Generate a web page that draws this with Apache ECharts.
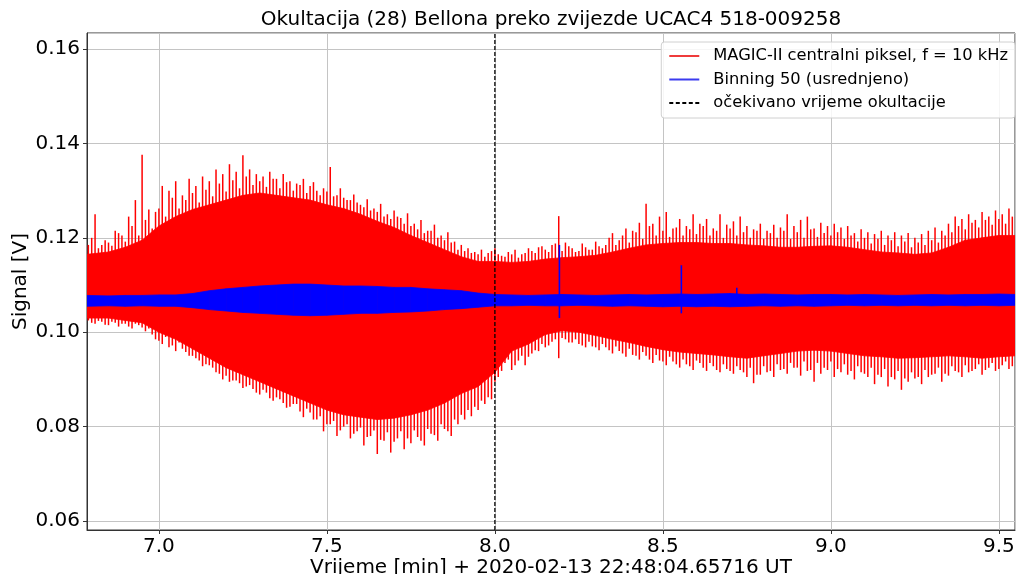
<!DOCTYPE html>
<html>
<head>
<meta charset="utf-8">
<script src="https://cdn.jsdelivr.net/npm/echarts@6/dist/echarts.min.js"></script>
<style>
html, body { margin: 0; padding: 0; background: #fff; }
#chart { width: 1016px; height: 574px; }
</style>
</head>
<body>
<div id="chart"></div>
<script>
// time axis for the envelopes (minutes)
const coreX = [6.786, 6.85, 6.90, 6.95, 7.00, 7.05, 7.10, 7.15, 7.20, 7.25, 7.30, 7.35, 7.40, 7.45,
    7.50, 7.55, 7.60, 7.65, 7.70, 7.75, 7.80, 7.85, 7.90, 7.95, 8.00, 8.05, 8.10, 8.15, 8.20, 8.25,
    8.30, 8.35, 8.40, 8.45, 8.50, 8.55, 8.60, 8.65, 8.70, 8.75, 8.80, 8.85, 8.90, 8.95, 9.00, 9.05,
    9.10, 9.15, 9.20, 9.25, 9.30, 9.35, 9.40, 9.45, 9.50, 9.548]

// dense part of the red signal (upper / lower edge)
const redHi = [0.1165, 0.1170, 0.1180, 0.1195, 0.1225, 0.1245, 0.1260, 0.1270, 0.1280, 0.1290, 0.1295, 0.1290, 0.1285, 0.1280,
    0.1270, 0.1262, 0.1250, 0.1235, 0.1222, 0.1205, 0.1190, 0.1175, 0.1160, 0.1150, 0.1150, 0.1148, 0.1150, 0.1155, 0.1158, 0.1160,
    0.1163, 0.1170, 0.1178, 0.1185, 0.1188, 0.1190, 0.1190, 0.1188, 0.1188, 0.1185, 0.1183, 0.1180, 0.1180, 0.1182, 0.1183, 0.1180,
    0.1175, 0.1170, 0.1168, 0.1165, 0.1168, 0.1180, 0.1195, 0.1200, 0.1205, 0.1205]
const redLo = [0.1030, 0.1030, 0.1025, 0.1020, 0.1000, 0.0985, 0.0965, 0.0945, 0.0925, 0.0910, 0.0895, 0.0880, 0.0865, 0.0850,
    0.0835, 0.0825, 0.0820, 0.0815, 0.0818, 0.0825, 0.0835, 0.0850, 0.0870, 0.0885, 0.0915, 0.0960, 0.0975, 0.0995, 0.1003, 0.1000,
    0.0993, 0.0985, 0.0978, 0.0970, 0.0963, 0.0958, 0.0955, 0.0952, 0.0948, 0.0945, 0.0950, 0.0955, 0.0960, 0.0962, 0.0960, 0.0955,
    0.0950, 0.0948, 0.0945, 0.0946, 0.0948, 0.0950, 0.0948, 0.0945, 0.0948, 0.0950]

// tall spikes of the red signal, every 0.02 min from 6.79
const spikeStart = 6.79
const spikeStep = 0.02
const spikeHi = [0.1185, 0.1250, 0.1185, 0.1190, 0.1215, 0.1205, 0.1245, 0.1280, 0.1376, 0.1260,
    0.1255, 0.1310, 0.1300, 0.1320, 0.1290, 0.1325, 0.1310, 0.1330, 0.1320, 0.1345,
    0.1335, 0.1356, 0.1340, 0.1375, 0.1345, 0.1335, 0.1330, 0.1340, 0.1325, 0.1335,
    0.1320, 0.1315, 0.1325, 0.1310, 0.1300, 0.1305, 0.1350, 0.1290, 0.1285, 0.1280,
    0.1275, 0.1265, 0.1258, 0.1255, 0.1245, 0.1240, 0.1245, 0.1230, 0.1225, 0.1218,
    0.1210, 0.1215, 0.1200, 0.1195, 0.1190, 0.1175, 0.1172, 0.1168, 0.1165, 0.1160,
    0.1172, 0.1165, 0.1160, 0.1165, 0.1158, 0.1168, 0.1172, 0.1180, 0.1175, 0.1185,
    0.1246, 0.1190, 0.1178, 0.1172, 0.1180, 0.1175, 0.1182, 0.1185, 0.1210, 0.1195,
    0.1220, 0.1215, 0.1232, 0.1272, 0.1230, 0.1245, 0.1255, 0.1220, 0.1240, 0.1225,
    0.1250, 0.1230, 0.1240, 0.1220, 0.1250, 0.1228, 0.1235, 0.1245, 0.1225, 0.1218,
    0.1230, 0.1215, 0.1228, 0.1222, 0.1250, 0.1225, 0.1238, 0.1245, 0.1220, 0.1232,
    0.1225, 0.1230, 0.1222, 0.1225, 0.1210, 0.1218, 0.1212, 0.1208, 0.1215, 0.1205,
    0.1212, 0.1205, 0.1210, 0.1200, 0.1208, 0.1215, 0.1222, 0.1215, 0.1230, 0.1245,
    0.1240, 0.1250, 0.1238, 0.1255, 0.1245, 0.1258, 0.1250, 0.1262, 0.1245]
const spikeLo = [0.1025, 0.1018, 0.1022, 0.1015, 0.1020, 0.1018, 0.1012, 0.1018, 0.1010, 0.1008,
    0.0985, 0.0975, 0.0968, 0.0960, 0.0965, 0.0950, 0.0945, 0.0928, 0.0930, 0.0915,
    0.0900, 0.0895, 0.0898, 0.0882, 0.0888, 0.0872, 0.0878, 0.0860, 0.0862, 0.0850,
    0.0842, 0.0848, 0.0820, 0.0830, 0.0815, 0.0790, 0.0805, 0.0780, 0.0800, 0.0775,
    0.0790, 0.0760, 0.0780, 0.0742, 0.0770, 0.0745, 0.0775, 0.0752, 0.0765, 0.0778,
    0.0760, 0.0785, 0.0770, 0.0795, 0.0780, 0.0805, 0.0815, 0.0822, 0.0835, 0.0848,
    0.0858, 0.0905, 0.0935, 0.0920, 0.0940, 0.0930, 0.0955, 0.0960, 0.0968, 0.0980,
    0.0945, 0.0985, 0.0978, 0.0975, 0.0968, 0.0970, 0.0962, 0.0968, 0.0955, 0.0960,
    0.0948, 0.0952, 0.0942, 0.0950, 0.0935, 0.0940, 0.0930, 0.0938, 0.0925, 0.0932,
    0.0920, 0.0935, 0.0918, 0.0928, 0.0915, 0.0922, 0.0912, 0.0920, 0.0905, 0.0892,
    0.0910, 0.0915, 0.0905, 0.0920, 0.0912, 0.0925, 0.0908, 0.0918, 0.0895, 0.0912,
    0.0920, 0.0905, 0.0915, 0.0910, 0.0900, 0.0915, 0.0905, 0.0890, 0.0905, 0.0885,
    0.0900, 0.0878, 0.0895, 0.0902, 0.0890, 0.0905, 0.0912, 0.0895, 0.0908, 0.0918,
    0.0905, 0.0915, 0.0922, 0.0910, 0.0925, 0.0918, 0.0930, 0.0922, 0.0935]

// shorter spikes in between, every 0.02 min from 6.80
const shortStart = 6.80
const shortHi = [0.1200, 0.1178, 0.1195, 0.1183, 0.1210, 0.1192, 0.1225, 0.1205, 0.1238, 0.1220,
    0.1262, 0.1245, 0.1285, 0.1262, 0.1280, 0.1295, 0.1275, 0.1302, 0.1288, 0.1315,
    0.1298, 0.1322, 0.1305, 0.1330, 0.1312, 0.1320, 0.1308, 0.1325, 0.1305, 0.1318,
    0.1300, 0.1312, 0.1295, 0.1318, 0.1290, 0.1298, 0.1288, 0.1305, 0.1280, 0.1292,
    0.1270, 0.1282, 0.1262, 0.1272, 0.1250, 0.1258, 0.1242, 0.1252, 0.1230, 0.1238,
    0.1215, 0.1228, 0.1205, 0.1212, 0.1192, 0.1185, 0.1178, 0.1170, 0.1175, 0.1168,
    0.1178, 0.1162, 0.1170, 0.1175, 0.1165, 0.1178, 0.1168, 0.1182, 0.1170, 0.1188,
    0.1172, 0.1182, 0.1170, 0.1188, 0.1175, 0.1192, 0.1178, 0.1200, 0.1185, 0.1205,
    0.1190, 0.1212, 0.1198, 0.1225, 0.1205, 0.1215, 0.1202, 0.1222, 0.1205, 0.1218,
    0.1208, 0.1225, 0.1205, 0.1215, 0.1200, 0.1220, 0.1205, 0.1212, 0.1200, 0.1215,
    0.1198, 0.1210, 0.1200, 0.1215, 0.1198, 0.1212, 0.1200, 0.1218, 0.1202, 0.1210,
    0.1205, 0.1212, 0.1198, 0.1205, 0.1192, 0.1200, 0.1188, 0.1198, 0.1185, 0.1195,
    0.1182, 0.1192, 0.1180, 0.1190, 0.1185, 0.1195, 0.1190, 0.1205, 0.1212, 0.1225,
    0.1218, 0.1232, 0.1222, 0.1238, 0.1228, 0.1240, 0.1230, 0.1245]
const shortLo = [0.1020, 0.1024, 0.1016, 0.1022, 0.1012, 0.1018, 0.1008, 0.1015, 0.1002, 0.0995,
    0.0982, 0.0990, 0.0972, 0.0978, 0.0958, 0.0950, 0.0940, 0.0932, 0.0925, 0.0912,
    0.0908, 0.0898, 0.0892, 0.0885, 0.0880, 0.0868, 0.0872, 0.0855, 0.0858, 0.0840,
    0.0848, 0.0832, 0.0838, 0.0815, 0.0822, 0.0805, 0.0812, 0.0792, 0.0805, 0.0785,
    0.0798, 0.0778, 0.0792, 0.0772, 0.0788, 0.0768, 0.0790, 0.0775, 0.0792, 0.0770,
    0.0795, 0.0782, 0.0805, 0.0790, 0.0815, 0.0825, 0.0835, 0.0842, 0.0855, 0.0862,
    0.0895, 0.0918, 0.0942, 0.0930, 0.0950, 0.0948, 0.0962, 0.0975, 0.0972, 0.0985,
    0.0988, 0.0978, 0.0985, 0.0972, 0.0980, 0.0968, 0.0975, 0.0962, 0.0970, 0.0955,
    0.0965, 0.0950, 0.0958, 0.0942, 0.0952, 0.0938, 0.0948, 0.0932, 0.0942, 0.0928,
    0.0940, 0.0925, 0.0935, 0.0920, 0.0932, 0.0918, 0.0928, 0.0915, 0.0925, 0.0910,
    0.0928, 0.0918, 0.0932, 0.0922, 0.0935, 0.0925, 0.0938, 0.0920, 0.0935, 0.0925,
    0.0938, 0.0922, 0.0932, 0.0918, 0.0928, 0.0912, 0.0925, 0.0910, 0.0922, 0.0905,
    0.0918, 0.0902, 0.0915, 0.0905, 0.0920, 0.0910, 0.0925, 0.0912, 0.0928, 0.0915,
    0.0930, 0.0918, 0.0932, 0.0920, 0.0935, 0.0922, 0.0938, 0.0928]

// binned signal band (upper / lower edge), same times as coreX
const blueHi = [0.1078, 0.1077, 0.1078, 0.1078, 0.1079, 0.1079, 0.1082, 0.1088, 0.1092, 0.1095, 0.1098, 0.1100, 0.1102, 0.1102,
    0.1100, 0.1098, 0.1098, 0.1097, 0.1095, 0.1095, 0.1092, 0.1090, 0.1088, 0.1083, 0.1080, 0.1079, 0.1078, 0.1079, 0.1080, 0.1079,
    0.1078, 0.1079, 0.1080, 0.1079, 0.1080, 0.1081, 0.1080, 0.1081, 0.1082, 0.1080, 0.1081, 0.1080, 0.1079, 0.1080, 0.1080, 0.1079,
    0.1080, 0.1079, 0.1078, 0.1079, 0.1080, 0.1079, 0.1080, 0.1080, 0.1081, 0.1080]
const blueLo = [0.1055, 0.1056, 0.1055, 0.1056, 0.1055, 0.1055, 0.1052, 0.1048, 0.1045, 0.1042, 0.1040, 0.1038, 0.1036, 0.1035,
    0.1036, 0.1038, 0.1040, 0.1040, 0.1042, 0.1043, 0.1045, 0.1048, 0.1050, 0.1053, 0.1056, 0.1056, 0.1057, 0.1056, 0.1056, 0.1057,
    0.1056, 0.1055, 0.1056, 0.1055, 0.1054, 0.1055, 0.1054, 0.1055, 0.1054, 0.1055, 0.1056, 0.1055, 0.1056, 0.1055, 0.1056, 0.1057,
    0.1056, 0.1057, 0.1056, 0.1057, 0.1056, 0.1057, 0.1056, 0.1057, 0.1056, 0.1057]
// outliers of the binned signal: [time, low, high]
const blueSpikes = [[8.192, 0.1030, 0.1185], [8.555, 0.1040, 0.1142], [8.72, 0.1060, 0.1094]]

const occultX = 8.0
const xTicks = [7.0, 7.5, 8.0, 8.5, 9.0, 9.5]

const redName = 'MAGIC-II centralni piksel, f = 10 kHz'
const blueName = 'Binning 50 (usrednjeno)'
const lineName = 'očekivano vrijeme okultacije'

const font = 'DejaVu Sans'

// vertical segment from value(1) to value(2) at time value(0)
function segments(color, width) {
    return function (params, api) {
        const top = api.coord([api.value(0), api.value(2)])
        const bot = api.coord([api.value(0), api.value(1)])
        return {
            type: 'line',
            shape: { x1: top[0], y1: top[1], x2: bot[0], y2: bot[1] },
            style: { stroke: color, lineWidth: width }
        }
    }
}

// filled quad between two neighbouring envelope samples
function band(color) {
    return function (params, api) {
        const a = api.coord([api.value(0), api.value(2)])
        const b = api.coord([api.value(3), api.value(5)])
        const c = api.coord([api.value(3), api.value(4)])
        const d = api.coord([api.value(0), api.value(1)])
        return {
            type: 'polygon',
            shape: { points: [a, b, c, d] },
            style: { fill: color, stroke: color, lineWidth: 0.8 }
        }
    }
}

function bandData(lo, hi) {
    const out = []
    for (let i = 0; i < coreX.length - 1; i++) {
        out.push([coreX[i], lo[i], hi[i], coreX[i + 1], lo[i + 1], hi[i + 1]])
    }
    return out
}

const redSpikeData = spikeHi.map((h, i) => [spikeStart + i * spikeStep, spikeLo[i], h])
    .concat(shortHi.map((h, i) => [shortStart + i * spikeStep, shortLo[i], h]))

let chart = echarts.init(document.getElementById('chart'))

chart.setOption({
    animation: false,
    backgroundColor: '#fff',
    textStyle: { fontFamily: font },
    graphic: [{
        type: 'text',
        x: 551, y: 10,
        z: 10,
        style: {
            text: 'Okultacija (28) Bellona preko zvijezde UCAC4 518-009258',
            font: '20px "DejaVu Sans"',
            fill: '#000',
            textAlign: 'center'
        }
    }],
    legend: {
        orient: 'vertical',
        right: 1,
        top: 42,
        padding: [5, 7, 6, 8],
        itemGap: 5.5,
        itemWidth: 30,
        itemHeight: 2,
        backgroundColor: 'rgba(255,255,255,0.85)',
        borderColor: '#d0d0d0',
        borderWidth: 1,
        borderRadius: 3,
        textStyle: { fontFamily: font, fontSize: 16.3, color: '#000', lineHeight: 18, padding: [0, 0, 0, 9] },
        data: [
            { name: redName, icon: 'path://M0,0H30V2H0Z', itemStyle: { color: '#ef3b3b' } },
            { name: blueName, icon: 'path://M0,0H30V2H0Z', itemStyle: { color: '#3b3bef' } },
            { name: lineName, icon: 'path://M0,0H4V2H0Z M6.5,0H10.5V2H6.5Z M13,0H17V2H13Z M19.5,0H23.5V2H19.5Z M26,0H30V2H26Z', itemStyle: { color: '#000' } }
        ]
    },
    grid: {
        left: 87, right: 1, top: 33, bottom: 44,
        outerBoundsMode: 'none',
        containLabel: false,
        show: true, borderColor: '#333', borderWidth: 1
    },
    xAxis: {
        type: 'value',
        min: 6.786,
        max: 9.548,
        name: 'Vrijeme [min] + 2020-02-13 22:48:04.65716 UT',
        nameLocation: 'middle',
        nameGap: 28,
        nameMoveOverlap: false,
        nameTextStyle: { fontFamily: font, fontSize: 20, color: '#000' },
        axisLine: { lineStyle: { color: '#333' } },
        axisTick: { length: 4, lineStyle: { color: '#333' } },
        axisLabel: {
            fontFamily: font, fontSize: 20, color: '#000', margin: 7,
            showMinLabel: false, showMaxLabel: false,
            formatter: v => xTicks.some(t => Math.abs(t - v) < 1e-6) ? v.toFixed(1) : ''
        },
        splitLine: { show: true, lineStyle: { color: '#c4c4c4', width: 1 } }
    },
    yAxis: {
        type: 'value',
        min: 0.0581,
        max: 0.1634,
        name: 'Signal [V]',
        nameLocation: 'middle',
        nameGap: 56,
        nameMoveOverlap: false,
        nameTextStyle: { fontFamily: font, fontSize: 20, color: '#000' },
        axisLine: { show: true, lineStyle: { color: '#333' } },
        axisTick: { show: true, length: 4, lineStyle: { color: '#333' } },
        axisLabel: {
            fontFamily: font, fontSize: 20, color: '#000', margin: 7,
            showMinLabel: false, showMaxLabel: false,
            formatter: v => v.toFixed(2)
        },
        splitLine: { show: true, lineStyle: { color: '#c4c4c4', width: 1 } }
    },
    series: [
        {
            type: 'custom', silent: true, z: 2, clip: true,
            encode: { x: [0, 3], y: [1, 2, 4, 5] },
            renderItem: band('#ff0000'),
            data: bandData(redLo, redHi)
        },
        {
            name: redName,
            type: 'custom', silent: true, z: 3, clip: true,
            itemStyle: { color: '#ff0000' },
            encode: { x: 0, y: [1, 2] },
            renderItem: segments('#ff0000', 1.5),
            data: redSpikeData
        },
        {
            name: blueName,
            type: 'custom', silent: true, z: 4, clip: true,
            itemStyle: { color: '#0000ff' },
            encode: { x: [0, 3], y: [1, 2, 4, 5] },
            renderItem: band('#0000ff'),
            data: bandData(blueLo, blueHi)
        },
        {
            type: 'custom', silent: true, z: 5,
            encode: { x: 0, y: [1, 2] },
            renderItem: segments('#0000ff', 1.6),
            data: blueSpikes
        },
        {
            name: lineName,
            type: 'line', silent: true, symbol: 'none', z: 6,
            itemStyle: { color: '#000' },
            lineStyle: { color: '#000', width: 1.3, type: [4, 2] },
            data: [[occultX, 0.0581], [occultX, 0.1634]]
        }
    ]
})
</script>
</body>
</html>
